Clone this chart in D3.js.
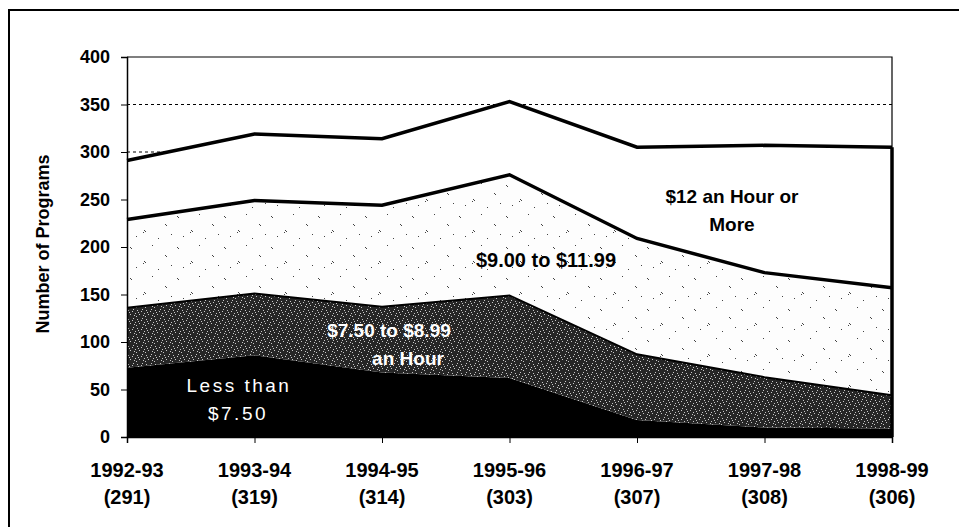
<!DOCTYPE html>
<html>
<head>
<meta charset="utf-8">
<script src="https://cdn.jsdelivr.net/npm/d3@7"></script>
<style>
  body { margin: 0; background: #fff; }
  text { font-family: Arial, "Liberation Sans", sans-serif; }
</style>
</head>
<body>
<div id="chart"></div>
<script>
// data
var years = ["1992-93", "1993-94", "1994-95", "1995-96", "1996-97", "1997-98", "1998-99"];
var counts = ["(291)", "(319)", "(314)", "(303)", "(307)", "(308)", "(306)"];
var lessThan750 = [73, 86, 68, 62, 18, 10, 9];
var from750to899 = [63, 65, 69, 87, 69, 53, 35];
var from900to1199 = [93, 98, 107, 127, 122, 110, 113];
var over12 = [62, 70, 70, 77, 96, 134, 148];
var yTicks = [0, 50, 100, 150, 200, 250, 300, 350, 400];

var keys = ["low", "mid", "high", "top"];
var rows = years.map(function (y, i) {
  return { year: y, low: lessThan750[i], mid: from750to899[i], high: from900to1199[i], top: over12[i] };
});

var svgWidth = 959;
var svgHeight = 527;
var margin = { top: 57, right: 67, bottom: 90, left: 127 };
var width = svgWidth - margin.left - margin.right;
var height = svgHeight - margin.top - margin.bottom;

var svg = d3.select("#chart")
  .append("svg")
  .attr("width", svgWidth)
  .attr("height", svgHeight);

// outer frame (cut off at right/bottom in the original)
svg.append("rect")
  .attr("x", 9).attr("y", 10)
  .attr("width", 970).attr("height", 540)
  .attr("fill", "none")
  .attr("stroke", "#000")
  .attr("stroke-width", 2);

// speckle textures
var defs = svg.append("defs");
var dark = defs.append("pattern")
  .attr("id", "darkSpeckle")
  .attr("width", 9).attr("height", 9)
  .attr("patternUnits", "userSpaceOnUse");
dark.append("rect").attr("width", 9).attr("height", 9).attr("fill", "#262626");
[[1, 1], [5, 2], [3, 5], [7, 6], [0, 7], [6, 0], [2, 3], [8, 4]].forEach(function (p) {
  dark.append("rect").attr("x", p[0]).attr("y", p[1]).attr("width", 1).attr("height", 1).attr("fill", "#c8c8c8");
});
var light = defs.append("pattern")
  .attr("id", "lightSpeckle")
  .attr("width", 47).attr("height", 31)
  .attr("patternUnits", "userSpaceOnUse");
light.append("rect").attr("width", 47).attr("height", 31).attr("fill", "#fdfdfd");
[[3, 4], [4, 5], [25, 2], [17, 18], [18, 19], [16, 20], [38, 12], [39, 13], [31, 26], [9, 24], [44, 22]].forEach(function (p) {
  light.append("rect").attr("x", p[0]).attr("y", p[1]).attr("width", 1).attr("height", 1).attr("fill", "#444");
});

var chart = svg.append("g")
  .attr("transform", "translate(" + margin.left + "," + margin.top + ")");

var x = d3.scalePoint().domain(years).range([0, width]);
var y = d3.scaleLinear().domain([0, 400]).range([height, 0]);

// gridlines
chart.selectAll(".grid")
  .data(yTicks.filter(function (t) { return t > 0 && t < 400; }))
  .enter()
  .append("line")
  .attr("x1", 0).attr("x2", width)
  .attr("y1", function (d) { return y(d); })
  .attr("y2", function (d) { return y(d); })
  .attr("stroke", "#000")
  .attr("stroke-width", 1)
  .attr("stroke-dasharray", "3,3");

// plot frame top and right
chart.append("path")
  .attr("d", "M0," + y(400) + "H" + width + "V" + y(0))
  .attr("fill", "none")
  .attr("stroke", "#000")
  .attr("stroke-width", 1.2);

var stack = d3.stack().keys(keys);
var series = stack(rows);
var fills = { low: "#000", mid: "url(#darkSpeckle)", high: "url(#lightSpeckle)", top: "#fff" };

var area = d3.area()
  .x(function (d) { return x(d.data.year); })
  .y0(function (d) { return y(d[0]); })
  .y1(function (d) { return y(d[1]); });

chart.selectAll(".layer")
  .data(series)
  .enter()
  .append("path")
  .attr("d", area)
  .attr("fill", function (d) { return fills[d.key]; });

var topLine = d3.line()
  .x(function (d) { return x(d.data.year); })
  .y(function (d) { return y(d[1]); });

// boundary lines
chart.append("path").attr("d", topLine(series[1]))
  .attr("fill", "none").attr("stroke", "#000").attr("stroke-width", 2);
chart.append("path").attr("d", topLine(series[2]))
  .attr("fill", "none").attr("stroke", "#000").attr("stroke-width", 3.5);
chart.append("path").attr("d", topLine(series[3]))
  .attr("fill", "none").attr("stroke", "#000").attr("stroke-width", 3.5);

// right edge of the stacked area
var last = series[3][years.length - 1];
chart.append("line")
  .attr("x1", x(years[years.length - 1])).attr("x2", x(years[years.length - 1]))
  .attr("y1", y(0)).attr("y2", y(last[1]))
  .attr("stroke", "#000").attr("stroke-width", 3.5);

// axes
var leftAxis = d3.axisLeft(y).tickValues(yTicks).tickSize(6).tickPadding(11);
var bottomAxis = d3.axisBottom(x).tickSize(6).tickFormat("");

var gy = chart.append("g").call(leftAxis);
gy.select(".domain").attr("stroke-width", 1.5);
gy.selectAll("text")
  .style("font-size", "18px")
  .style("font-weight", "bold")
  .attr("fill", "#000");

var gx = chart.append("g")
  .attr("transform", "translate(0," + height + ")")
  .call(bottomAxis);
gx.select(".domain").attr("stroke-width", 1.5);

chart.selectAll(".yearLabel")
  .data(years)
  .enter()
  .append("text")
  .attr("x", function (d) { return x(d); })
  .attr("y", height + 40)
  .attr("text-anchor", "middle")
  .style("font-size", "20px")
  .style("font-weight", "bold")
  .text(function (d) { return d; });

chart.selectAll(".countLabel")
  .data(years)
  .enter()
  .append("text")
  .attr("x", function (d) { return x(d); })
  .attr("y", height + 67)
  .attr("text-anchor", "middle")
  .style("font-size", "20px")
  .style("font-weight", "bold")
  .text(function (d, i) { return counts[i]; });

chart.append("text")
  .attr("transform", "rotate(-90)")
  .attr("x", 0 - height / 2 + 3)
  .attr("y", 0 - margin.left + 49)
  .attr("text-anchor", "middle")
  .style("font-size", "18px")
  .style("font-weight", "bold")
  .text("Number of Programs");

// series labels
function label(lines, xs, cy, color, weight, size) {
  var t = svg.append("text")
    .attr("text-anchor", "middle")
    .attr("fill", color)
    .style("font-size", size + "px")
    .style("font-weight", weight);
  lines.forEach(function (s, i) {
    t.append("tspan").attr("x", xs[i]).attr("y", cy + i * 28).text(s);
  });
  return t;
}

label(["Less than", "$7.50"], [239, 238], 392, "#fff", "normal", 19).style("letter-spacing", "2.5px");
label(["$7.50 to $8.99", "an Hour"], [389, 408], 337, "#fff", "bold", 19);
label(["$9.00 to $11.99"], [546], 267, "#000", "bold", 20);
label(["$12 an Hour or", "More"], [732, 732], 203, "#000", "bold", 19);
</script>
</body>
</html>
